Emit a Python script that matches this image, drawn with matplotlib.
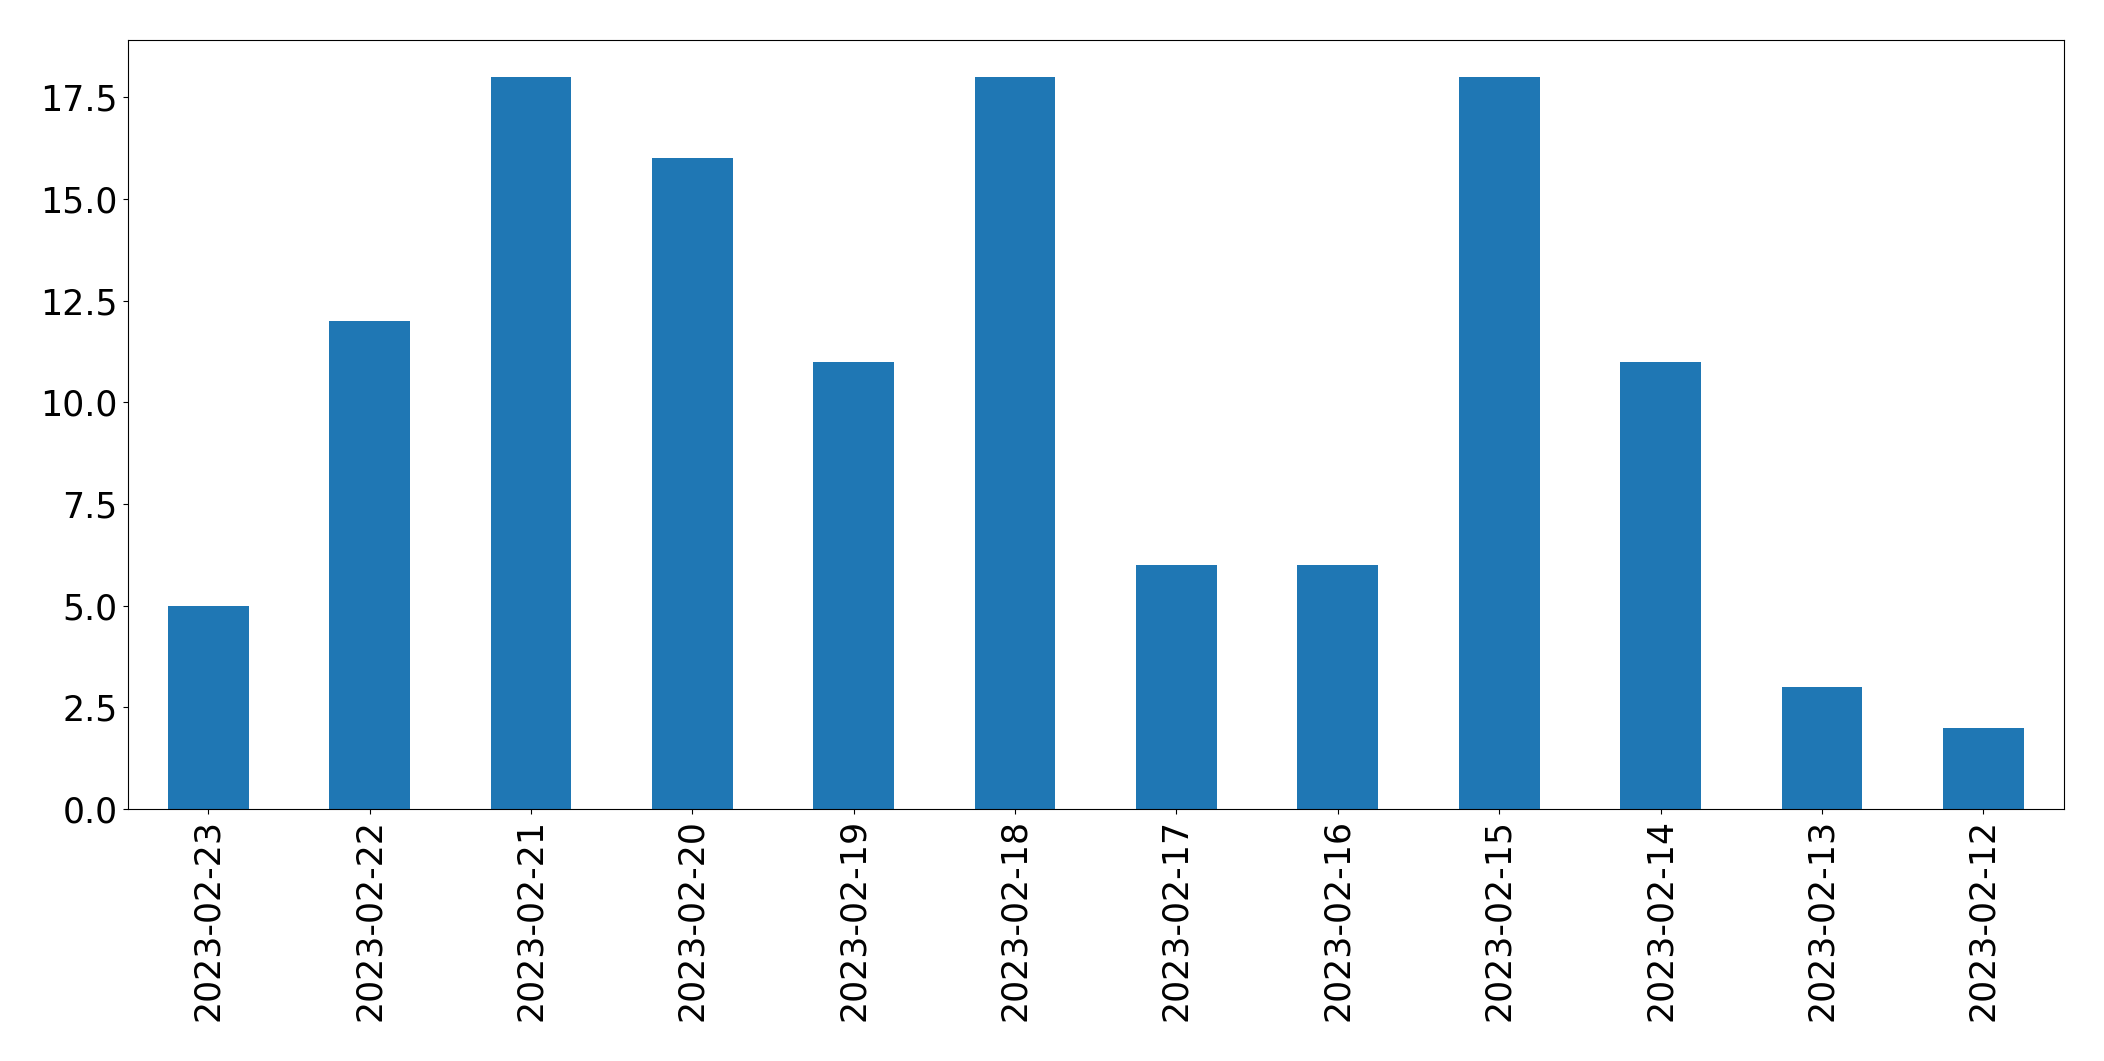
import matplotlib
matplotlib.use("Agg")
import matplotlib.pyplot as plt
import numpy as np

dates = ["2023-02-23", "2023-02-22", "2023-02-21", "2023-02-20", "2023-02-19", "2023-02-18",
         "2023-02-17", "2023-02-16", "2023-02-15", "2023-02-14", "2023-02-13", "2023-02-12"]
counts = [5, 12, 18, 16, 11, 18, 6, 6, 18, 11, 3, 2]

fig = plt.figure(figsize=(21.04, 10.61), dpi=100)
ax = fig.add_axes([0.0606, 0.2375, 0.9204, 0.7245])
x = np.arange(len(dates))
ax.bar(x, counts, width=0.5, color="#1f77b4")
ax.set_xlim(-0.5, len(dates) - 0.5)
ax.set_ylim(0, 18.9)
ax.set_yticks(np.arange(0, 18, 2.5))
ax.set_xticks(x)
ax.set_xticklabels(dates, rotation=90)
ax.tick_params(labelsize=25)
fig.savefig("out.png", dpi=100)
